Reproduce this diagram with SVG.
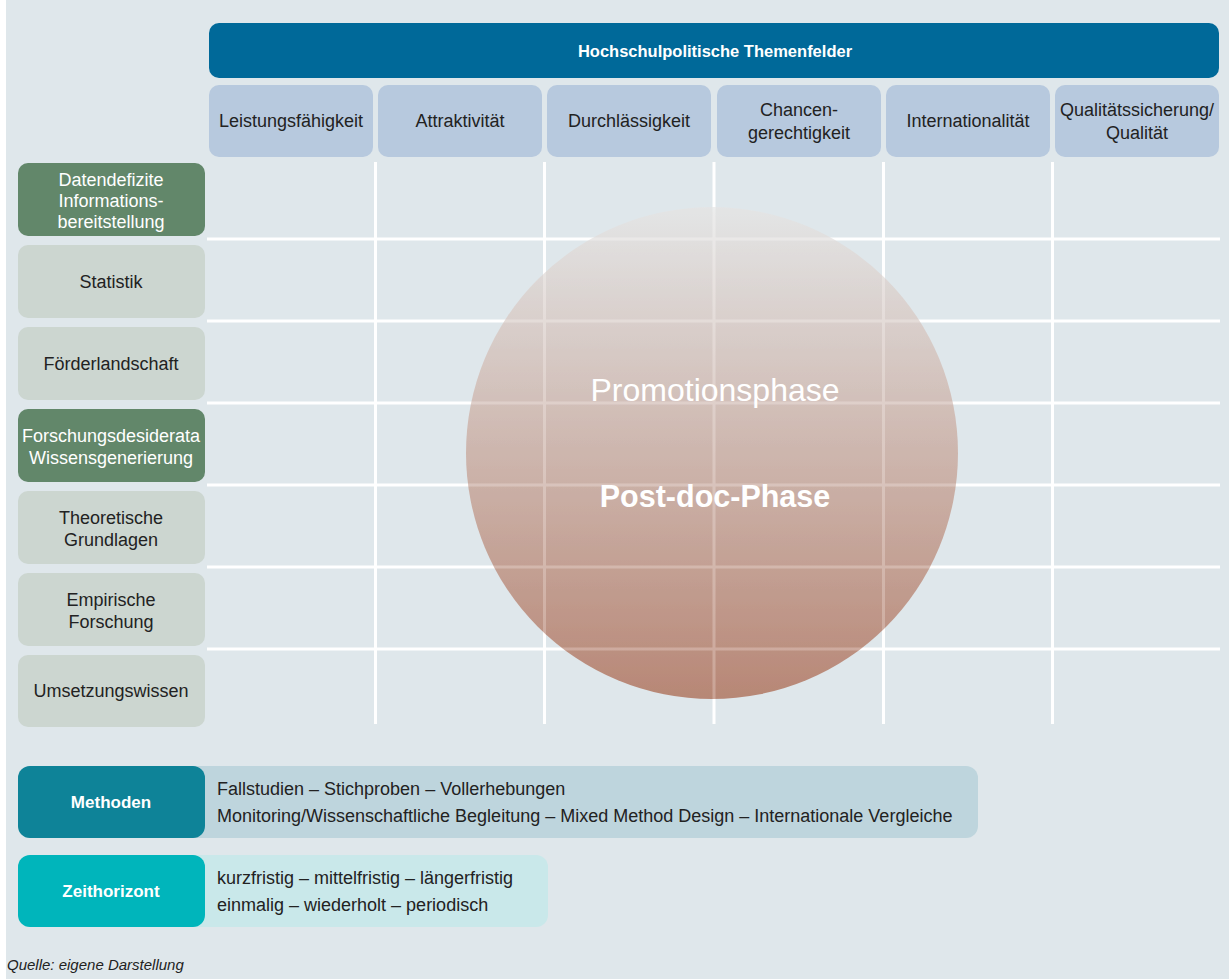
<svg xmlns="http://www.w3.org/2000/svg" width="1229" height="979" viewBox="0 0 1229 979">
<defs>
<linearGradient id="circ" x1="0" y1="0" x2="0" y2="1">
<stop offset="0" stop-color="#e4e5e5"/>
<stop offset="1" stop-color="#b27a66"/>
</linearGradient>
<clipPath id="cclip"><circle cx="712" cy="453" r="246"/></clipPath>
</defs>
<style>
text{font-family:"Liberation Sans","DejaVu Sans",sans-serif;}
.col rect{fill:#b7c9de;}
.col text,.row text{font-size:18px;fill:#222;text-anchor:middle;}
.rowd rect{fill:#62876a;}
.rowd text{fill:#fff;}
.rowl rect{fill:#ccd6d0;}
.grid line{stroke:#fff;stroke-width:3;}
.lbl{font-size:18px;fill:#222;}
.bold{font-weight:bold;fill:#fff;text-anchor:middle;}
</style>
<rect x="0" y="0" width="1229" height="979" fill="#fff"/>
<rect x="6" y="0" width="1223" height="979" fill="#dfe7eb"/>

<g id="header">
<rect x="209" y="23" width="1010" height="55" rx="10" fill="#006999"/>
<text x="715" y="57" class="bold" font-size="16.5">Hochschulpolitische Themenfelder</text>
</g>

<g id="col1" class="col"><rect x="209" y="85" width="164" height="72" rx="10"/><text x="291" y="127">Leistungsfähigkeit</text></g>
<g id="col2" class="col"><rect x="378" y="85" width="164" height="72" rx="10"/><text x="460" y="127">Attraktivität</text></g>
<g id="col3" class="col"><rect x="547" y="85" width="164" height="72" rx="10"/><text x="629" y="127">Durchlässigkeit</text></g>
<g id="col4" class="col"><rect x="717" y="85" width="164" height="72" rx="10"/><text x="799" y="116">Chancen-</text><text x="799" y="139">gerechtigkeit</text></g>
<g id="col5" class="col"><rect x="886" y="85" width="164" height="72" rx="10"/><text x="968" y="127">Internationalität</text></g>
<g id="col6" class="col"><rect x="1055" y="85" width="164" height="72" rx="10"/><text x="1137" y="116">Qualitätssicherung/</text><text x="1137" y="139">Qualität</text></g>

<g id="connectors" class="grid">
<line x1="375.5" y1="162" x2="375.5" y2="724"/>
<line x1="544.5" y1="162" x2="544.5" y2="724"/>
<line x1="714" y1="162" x2="714" y2="724"/>
<line x1="883.5" y1="162" x2="883.5" y2="724"/>
<line x1="1052.5" y1="162" x2="1052.5" y2="724"/>
<line x1="207" y1="239" x2="1220" y2="239"/>
<line x1="207" y1="321" x2="1220" y2="321"/>
<line x1="207" y1="403" x2="1220" y2="403"/>
<line x1="207" y1="485" x2="1220" y2="485"/>
<line x1="207" y1="567" x2="1220" y2="567"/>
<line x1="207" y1="649" x2="1220" y2="649"/>
</g>

<g id="row1" class="row rowd"><rect x="18" y="163" width="187" height="73" rx="10"/><text x="111" y="186">Datendefizite</text><text x="111" y="207">Informations-</text><text x="111" y="228">bereitstellung</text></g>
<g id="row2" class="row rowl"><rect x="18" y="245" width="187" height="73" rx="10"/><text x="111" y="288">Statistik</text></g>
<g id="row3" class="row rowl"><rect x="18" y="327" width="187" height="73" rx="10"/><text x="111" y="370">Förderlandschaft</text></g>
<g id="row4" class="row rowd"><rect x="18" y="409" width="187" height="73" rx="10"/><text x="111" y="442">Forschungsdesiderata</text><text x="111" y="464">Wissensgenerierung</text></g>
<g id="row5" class="row rowl"><rect x="18" y="491" width="187" height="73" rx="10"/><text x="111" y="524">Theoretische</text><text x="111" y="546">Grundlagen</text></g>
<g id="row6" class="row rowl"><rect x="18" y="573" width="187" height="73" rx="10"/><text x="111" y="606">Empirische</text><text x="111" y="628">Forschung</text></g>
<g id="row7" class="row rowl"><rect x="18" y="655" width="187" height="72" rx="10"/><text x="111" y="697">Umsetzungswissen</text></g>

<g id="circle">
<circle cx="712" cy="453" r="246" fill="url(#circ)" opacity="0.88"/>
<g clip-path="url(#cclip)" opacity="0.22"><use href="#connectors"/></g>
<text x="715" y="401" font-size="32" fill="#fff" text-anchor="middle">Promotionsphase</text>
<text x="715" y="507" font-size="30.5" font-weight="bold" fill="#fff" text-anchor="middle">Post-doc-Phase</text>
</g>

<g id="methoden">
<rect x="18" y="766" width="960" height="72" rx="12" fill="#bed5dd"/>
<rect x="18" y="766" width="187" height="72" rx="12" fill="#0e8398"/>
<text x="111" y="808" class="bold" font-size="17">Methoden</text>
<text x="217" y="795" class="lbl">Fallstudien – Stichproben – Vollerhebungen</text>
<text x="217" y="822" class="lbl">Monitoring/Wissenschaftliche Begleitung – Mixed Method Design – Internationale Vergleiche</text>
</g>

<g id="zeithorizont">
<rect x="18" y="855" width="530" height="72" rx="12" fill="#c9e8ea"/>
<rect x="18" y="855" width="187" height="72" rx="12" fill="#00b5bb"/>
<text x="111" y="897" class="bold" font-size="17">Zeithorizont</text>
<text x="217" y="884" class="lbl">kurzfristig – mittelfristig – längerfristig</text>
<text x="217" y="911" class="lbl">einmalig – wiederholt – periodisch</text>
</g>

<text x="7" y="970" font-size="15" font-style="italic" fill="#222">Quelle: eigene Darstellung</text>
</svg>
